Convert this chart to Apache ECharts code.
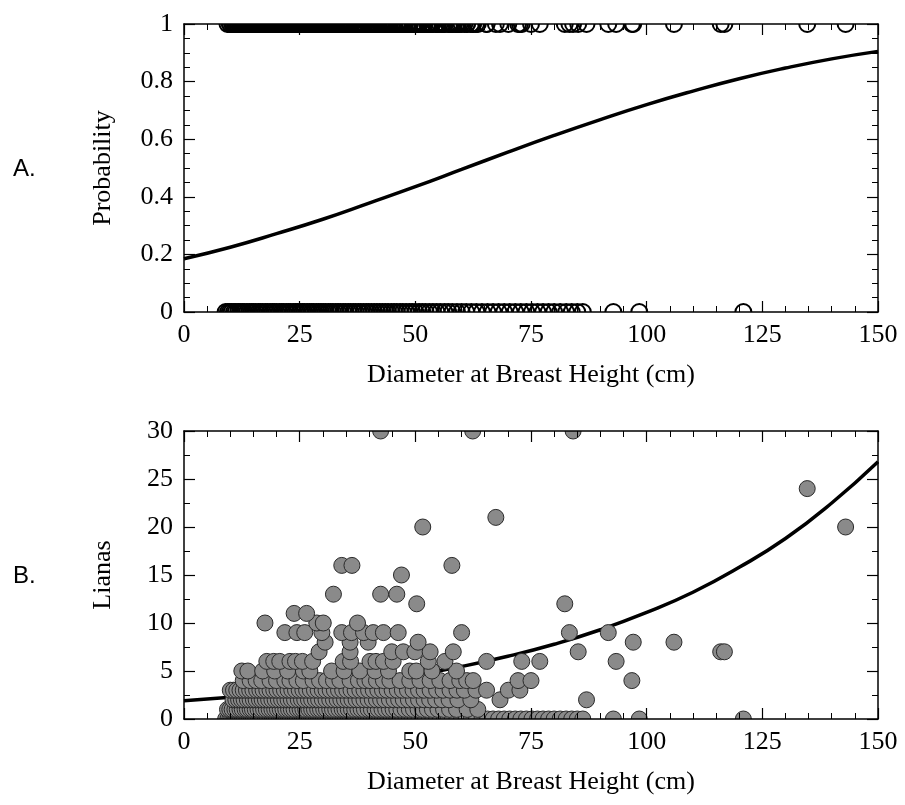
<!DOCTYPE html>
<html>
<head>
<meta charset="utf-8">
<script src="https://cdn.jsdelivr.net/npm/echarts@6/dist/echarts.min.js"></script>
<style>
html,body{margin:0;padding:0;background:#fff;}
#chart{width:905px;height:805px;}
</style>
</head>
<body>
<div id="chart"></div>
<script>
// ---- Data ----
// Tree DBH (cm) grouped by number of lianas observed on the tree
const lianas0 = [9.0, 9.5, 9.9, 10.3, 10.8, 11.2, 11.7, 12.1, 12.6, 13.0, 13.6, 14.1, 14.6, 15.0, 15.5, 16.1, 16.5, 17.0, 17.6, 18.0, 18.6, 19.1, 19.5, 20.0, 20.6, 21.1, 21.5, 22.1, 22.6, 23.0, 23.6, 24.1, 24.5, 25.1, 25.6, 26.0, 26.6, 27.1, 27.6, 28.0, 28.6, 29.1, 29.6, 30.1, 30.6, 31.2, 31.7, 32.2, 32.8, 33.3, 33.8, 34.4, 34.9, 35.5, 36.0, 36.6, 37.1, 37.7, 38.2, 38.8, 39.4, 39.9, 40.5, 41.1, 41.7, 42.3, 42.9, 43.5, 44.1, 44.8, 45.4, 46.0, 46.7, 47.3, 48.0, 48.7, 49.3, 50.0, 50.8, 51.5, 52.2, 53.0, 53.8, 54.6, 55.4, 56.3, 57.1, 58.0, 59.0, 60.0, 61.0, 62.1, 63.2, 64.4, 65.6, 66.8, 68.0, 69.2, 70.4, 71.6, 72.8, 74.0, 75.2, 76.4, 77.6, 78.8, 80.0, 81.3, 82.6, 83.8, 85.0, 86.2, 92.8, 98.4, 120.9];
const lianas1 = [9.4, 9.9, 10.4, 11.0, 11.5, 12.1, 12.6, 13.2, 13.7, 14.3, 14.8, 15.4, 16.0, 16.6, 17.2, 17.8, 18.4, 19.0, 19.6, 20.2, 20.8, 21.4, 22.0, 22.6, 23.2, 23.8, 24.5, 25.1, 25.7, 26.3, 27.0, 27.6, 28.2, 28.9, 29.5, 30.2, 30.8, 31.5, 32.1, 32.8, 33.5, 34.2, 34.8, 35.5, 36.2, 36.9, 37.6, 38.3, 39.0, 39.8, 40.5, 41.3, 42.0, 42.8, 43.6, 44.4, 45.2, 46.0, 46.9, 47.8, 48.7, 49.6, 50.6, 51.6, 52.6, 53.7, 54.9, 56.1, 57.4, 58.9, 61.2, 63.5];
const lianas2 = [10.6, 11.2, 11.8, 12.4, 13.0, 13.7, 14.3, 15.0, 15.6, 16.3, 16.9, 17.6, 18.3, 19.0, 19.7, 20.4, 21.1, 21.8, 22.5, 23.2, 23.9, 24.7, 25.4, 26.1, 26.9, 27.6, 28.4, 29.1, 29.9, 30.7, 31.5, 32.3, 33.1, 33.9, 34.7, 35.5, 36.3, 37.2, 38.0, 38.9, 39.8, 40.7, 41.6, 42.5, 43.4, 44.4, 45.4, 46.4, 47.4, 48.5, 49.6, 50.7, 51.9, 53.1, 54.4, 55.8, 57.3, 59.2, 62.0, 68.3, 87.0];
const lianas3 = [10.0, 10.7, 11.4, 12.1, 12.8, 13.5, 14.2, 14.9, 15.7, 16.4, 17.1, 17.9, 18.6, 19.4, 20.1, 20.9, 21.7, 22.5, 23.3, 24.1, 24.9, 25.7, 26.5, 27.3, 28.2, 29.0, 29.9, 30.7, 31.6, 32.5, 33.4, 34.3, 35.2, 36.1, 37.0, 38.0, 38.9, 39.9, 40.9, 41.9, 42.9, 43.9, 45.0, 46.1, 47.2, 48.3, 49.5, 50.7, 51.9, 53.2, 54.6, 56.0, 57.5, 59.0, 60.6, 63.1, 65.4, 70.1, 72.6];
const lianas4 = [12.8, 14.3, 15.6, 16.8, 18.6, 20.0, 21.8, 22.9, 24.4, 25.8, 27.9, 29.3, 30.8, 32.3, 33.7, 35.9, 37.7, 39.1, 40.2, 41.6, 43.1, 44.5, 46.7, 48.8, 51.0, 53.2, 55.3, 57.5, 59.6, 61.1, 62.5, 72.2, 75.0, 96.8];
const lianas5 = [12.5, 13.8, 17.0, 19.6, 22.4, 25.8, 27.2, 31.9, 34.6, 38.0, 41.3, 44.2, 48.8, 50.2, 53.6, 58.9];
const lianas6 = [17.9, 19.4, 20.7, 22.9, 24.1, 25.6, 27.8, 34.4, 36.0, 40.2, 41.5, 43.1, 45.2, 52.8, 56.4, 65.4, 73.0, 76.9, 93.4];
const lianas7 = [29.2, 35.9, 44.9, 47.4, 49.9, 53.2, 58.2, 85.2, 116.0, 116.8];
const lianas8 = [30.5, 35.9, 39.8, 50.6, 97.1, 105.9];
const lianas9 = [21.8, 24.4, 26.1, 29.8, 34.1, 36.2, 38.8, 40.9, 43.1, 46.3, 60.0, 83.3, 91.7];
const lianas10 = [17.5, 28.7, 30.1, 37.5];
const lianas11 = [23.8, 26.5];
const lianas12 = [50.3, 82.3];
const lianas13 = [32.3, 42.5, 46.0];
const lianas15 = [47.0];
const lianas16 = [34.1, 36.3, 57.9];
const lianas20 = [51.6, 143.0];
const lianas21 = [67.4];
const lianas24 = [134.7];
const lianas30 = [42.5, 62.4, 84.1];

const lianaGroups = [
  [0, lianas0], [1, lianas1], [2, lianas2], [3, lianas3], [4, lianas4],
  [5, lianas5], [6, lianas6], [7, lianas7], [8, lianas8], [9, lianas9],
  [10, lianas10], [11, lianas11], [12, lianas12], [13, lianas13], [15, lianas15],
  [16, lianas16], [20, lianas20], [21, lianas21], [24, lianas24], [30, lianas30]
];

// Fitted curves
const curveDbh = [0, 10, 20, 30, 40, 50, 60, 70, 80, 90, 100, 110, 120, 130, 140, 150];
const probabilityFit = [0.185, 0.225, 0.272, 0.322, 0.378, 0.435, 0.495, 0.555, 0.613, 0.668, 0.72, 0.767, 0.81, 0.847, 0.879, 0.905];
const lianasFit = [1.9, 2.27, 2.7, 3.23, 3.85, 4.59, 5.47, 6.53, 7.79, 9.3, 11.1, 13.2, 15.8, 18.8, 22.5, 26.8];

// Axis ticks
const xMin = 0, xMax = 150, xStep = 25;
const probMin = 0, probMax = 1, probStep = 0.2;
const lianaMin = 0, lianaMax = 30, lianaStep = 5;

// ---- Build series data ----
const lianaPoints = [];
const presencePoints = [];
lianaGroups.forEach(([count, dbhs]) => {
  dbhs.forEach(d => {
    lianaPoints.push([d, count]);
    presencePoints.push([d, count > 0 ? 1 : 0]);
  });
});
const probCurve = curveDbh.map((d, i) => [d, probabilityFit[i]]);
const lianaCurve = curveDbh.map((d, i) => [d, lianasFit[i]]);

// ---- Styling ----
const serif = '"Liberation Serif", "Times New Roman", "DejaVu Serif", serif';
const axisLine = { show: true, onZero: false, lineStyle: { color: '#000', width: 1.5 } };
const tick = { show: true, inside: true, length: 11, lineStyle: { color: '#000', width: 1.2 } };
const labelStyle = { color: '#000', fontFamily: serif, fontSize: 26 };

function xAx(grid, pos, withLabels) {
  return {
    gridIndex: grid, type: 'value', position: pos,
    min: xMin, max: xMax, interval: xStep,
    axisLine: axisLine, axisTick: tick,
    minorTick: { show: true, splitNumber: 5, length: 6, lineStyle: { color: '#000', width: 1 } },
    splitLine: { show: false }, minorSplitLine: { show: false },
    axisLabel: withLabels ? Object.assign({ show: true, margin: 10 }, labelStyle) : { show: false },
    name: withLabels ? 'Diameter at Breast Height (cm)' : '',
    nameLocation: 'middle', nameGap: 50,
    nameTextStyle: { color: '#000', fontFamily: serif, fontSize: 26 },
    z: 5
  };
}
function yAx(grid, pos, min, max, step, minorSplit, name) {
  return {
    gridIndex: grid, type: 'value', position: pos,
    min: min, max: max, interval: step,
    axisLine: axisLine, axisTick: tick,
    minorTick: { show: true, splitNumber: minorSplit, length: 6, lineStyle: { color: '#000', width: 1 } },
    splitLine: { show: false }, minorSplitLine: { show: false },
    axisLabel: name ? Object.assign({ show: true, margin: 11 }, labelStyle) : { show: false },
    name: name || '', nameLocation: 'middle', nameGap: 68, nameRotate: 90,
    nameTextStyle: { color: '#000', fontFamily: serif, fontSize: 26 },
    z: 5
  };
}

function circleRenderer(radius, fill, stroke, lw) {
  return function (params, api) {
    const p = api.coord([api.value(0), api.value(1)]);
    return {
      type: 'circle',
      shape: { cx: p[0], cy: p[1], r: radius },
      style: { fill: fill, stroke: stroke, lineWidth: lw }
    };
  };
}

const chart = echarts.init(document.getElementById('chart'), null, { renderer: 'canvas' });
chart.setOption({
  animation: false,
  backgroundColor: '#fff',
  grid: [
    { left: 184, top: 24, width: 694, height: 288, containLabel: false },
    { left: 184, top: 431, width: 694, height: 288, containLabel: false }
  ],
  xAxis: [xAx(0, 'bottom', true), xAx(0, 'top', false), xAx(1, 'bottom', true), xAx(1, 'top', false)],
  yAxis: [
    yAx(0, 'left', probMin, probMax, probStep, 4, 'Probability'),
    yAx(0, 'right', probMin, probMax, probStep, 4, null),
    yAx(1, 'left', lianaMin, lianaMax, lianaStep, 2, 'Lianas'),
    yAx(1, 'right', lianaMin, lianaMax, lianaStep, 2, null)
  ],
  graphic: [
    { type: 'text', left: 13, top: 157, style: { text: 'A.', font: '24px "Liberation Sans", Arial, sans-serif', fill: '#000' } },
    { type: 'text', left: 13, top: 564, style: { text: 'B.', font: '24px "Liberation Sans", Arial, sans-serif', fill: '#000' } }
  ],
  series: [
    {
      type: 'custom', xAxisIndex: 0, yAxisIndex: 0, data: presencePoints,
      encode: { x: 0, y: 1 }, clip: true, silent: true,
      renderItem: circleRenderer(8, 'none', '#000', 2)
    },
    {
      type: 'line', xAxisIndex: 0, yAxisIndex: 0, data: probCurve,
      smooth: true, showSymbol: false, lineStyle: { color: '#000', width: 3.5 }, silent: true
    },
    {
      type: 'line', xAxisIndex: 2, yAxisIndex: 2, data: lianaCurve,
      smooth: true, showSymbol: false, lineStyle: { color: '#000', width: 3.5 }, silent: true, z: 1
    },
    {
      type: 'custom', xAxisIndex: 2, yAxisIndex: 2, data: lianaPoints,
      encode: { x: 0, y: 1 }, clip: true, silent: true, z: 2,
      renderItem: circleRenderer(8, '#8a8a8a', '#2a2a2a', 1)
    }
  ]
});
</script>
</body>
</html>
